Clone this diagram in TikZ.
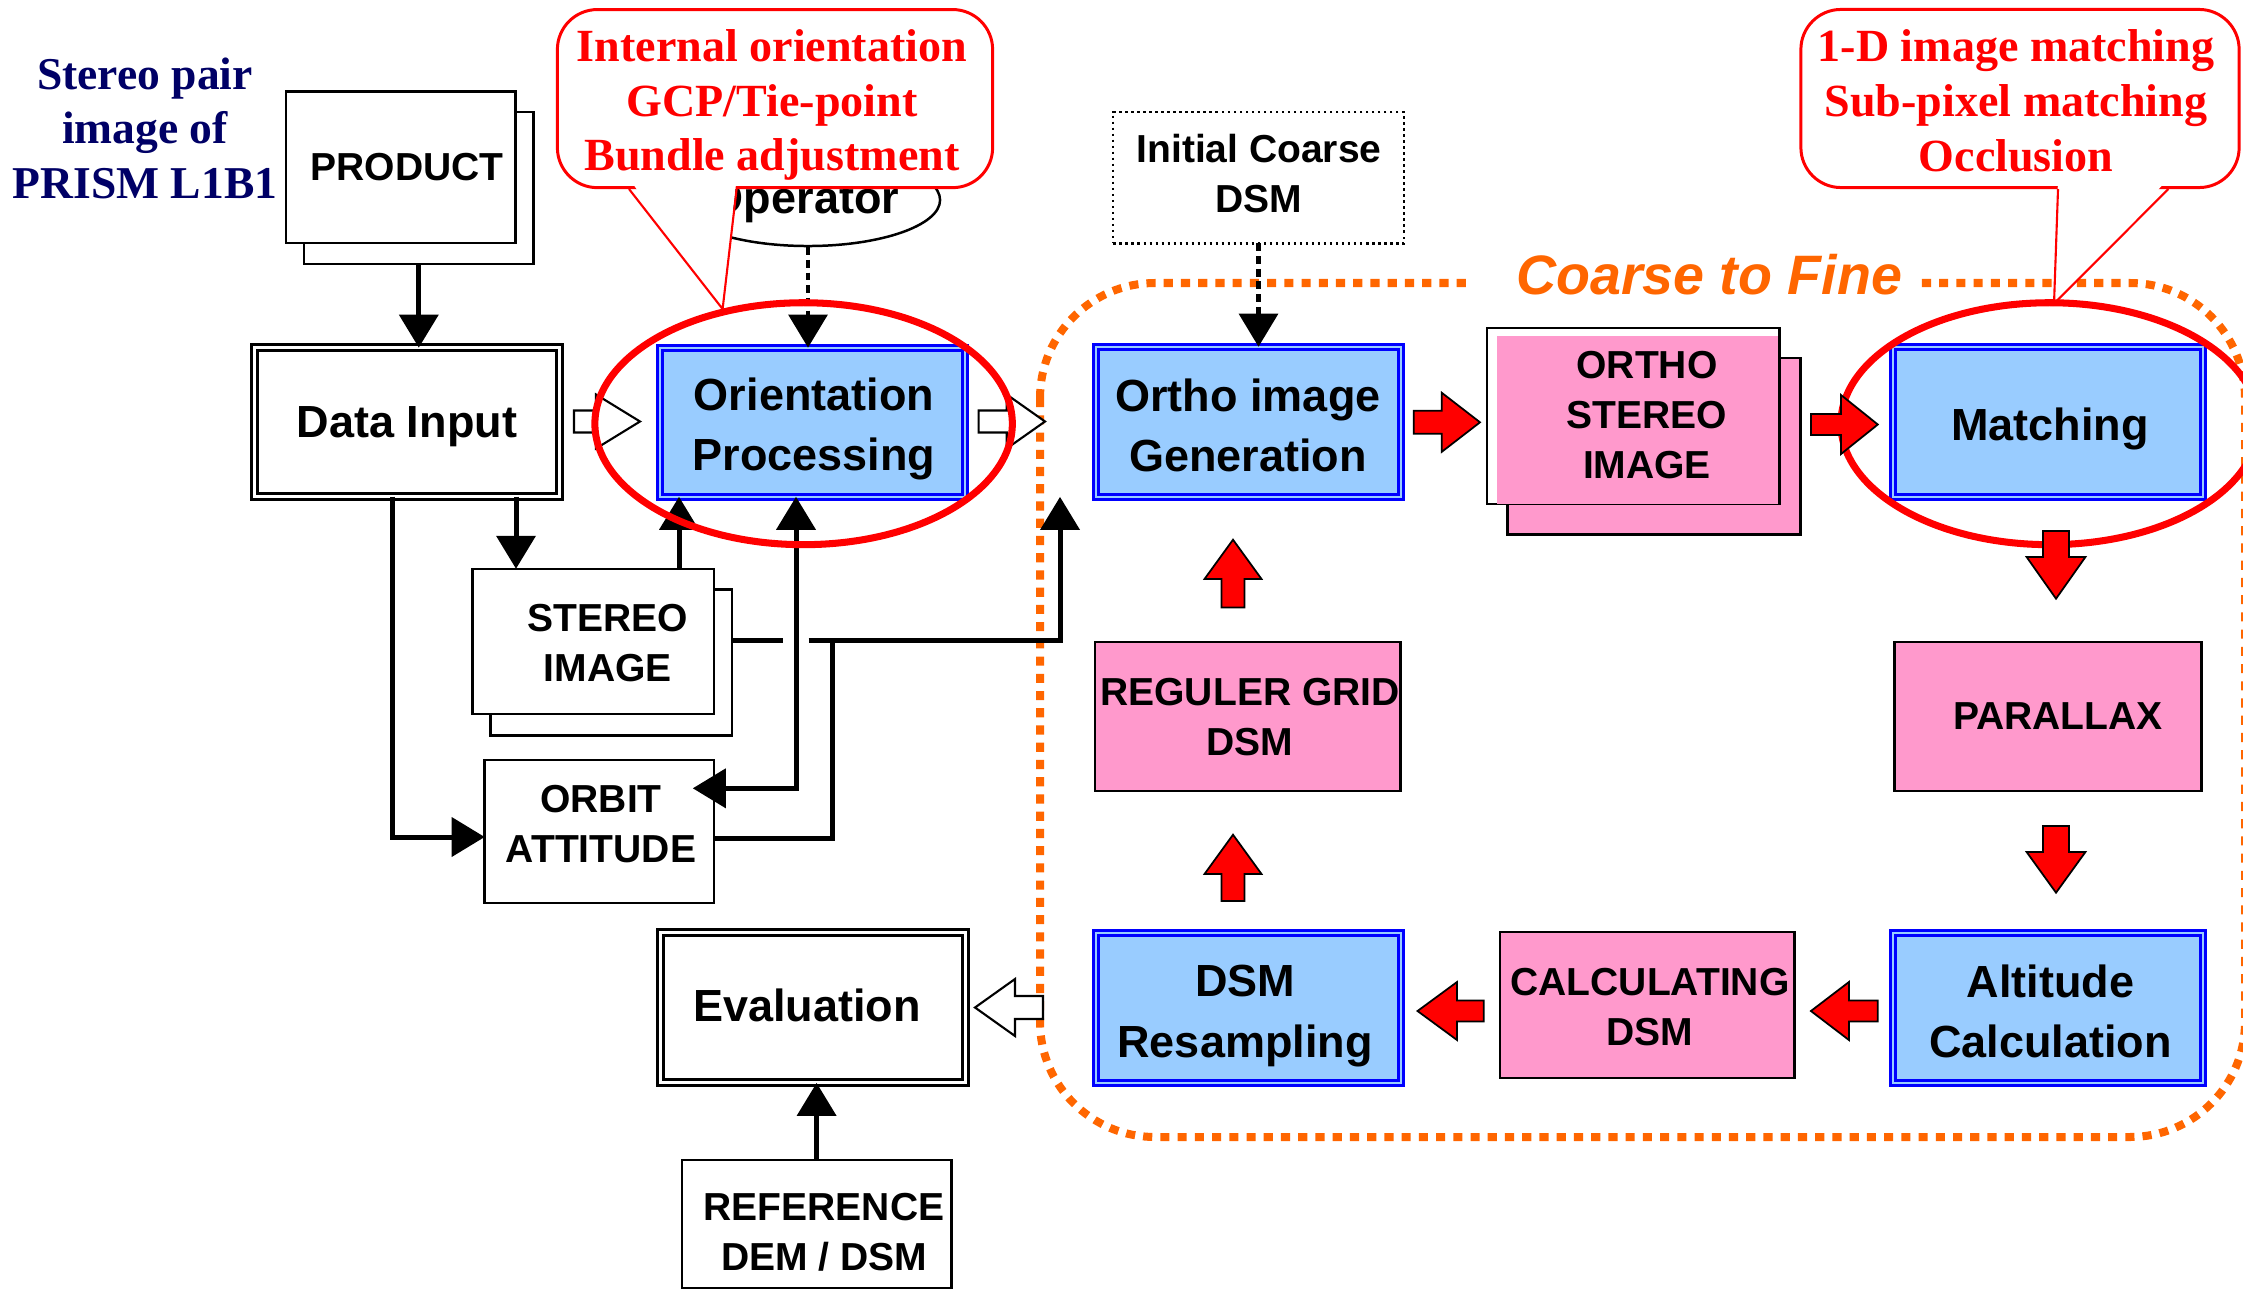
\documentclass[tikz,border=0pt]{standalone}
\usepackage{fontspec}
\setmainfont{Liberation Serif}
\setsansfont{Liberation Sans}
\usetikzlibrary{arrows.meta,shapes.geometric}
\definecolor{lblue}{HTML}{99CCFF}
\definecolor{bblue}{HTML}{0000FF}
\definecolor{pinkc}{HTML}{FF99CC}
\definecolor{navyc}{HTML}{000066}
\definecolor{orng}{HTML}{FF6600}
\newcommand\blkh[7]{\draw[#1] (#2,#3) -- (#4,#3-#6) -- (#4,#3-#7) -- (#5,#3-#7) -- (#5,#3+#7) -- (#4,#3+#7) -- (#4,#3+#6) -- cycle;}
\newcommand\blkv[7]{\draw[#1] (#3,#2) -- (#3-#6,#4) -- (#3-#7,#4) -- (#3-#7,#5) -- (#3+#7,#5) -- (#3+#7,#4) -- (#3+#6,#4) -- cycle;}
\tikzset{
  box/.style={draw, line width=0.71pt, inner sep=0pt, outer sep=0pt, fill=white},
  pinkbox/.style={box, fill=pinkc},
  bluebox/.style={draw=bblue, double=lblue, line width=0.85pt, double distance=0.6pt, fill=lblue, inner sep=0pt, outer sep=0pt},
  dblbox/.style={draw=black, double=white, line width=0.85pt, double distance=0.85pt, fill=white, inner sep=0pt, outer sep=0pt},
  bigtxt/.style={font=\sffamily\bfseries\fontsize{12.8}{17.1}\selectfont, align=center},
  smtxt/.style={font=\sffamily\bfseries\fontsize{11.1}{14.2}\selectfont, align=center},
  line/.style={line width=1.42pt},
  conn/.style={line width=1.42pt, -{Triangle[length=9.4pt,width=11pt]}},
  biconn/.style={line width=1.42pt, {Triangle[length=9.4pt,width=11pt]}-{Triangle[length=9.4pt,width=11pt]}},
  dconn/.style={line width=1.2pt, dash pattern=on 2.2pt off 1.4pt, -{Triangle[length=9.4pt,width=11pt]}},
  hollow/.style={draw=black, fill=white, line width=0.6pt},
  redarr/.style={draw=black, fill=red, line width=0.5pt, line join=miter},
  callout/.style={draw=red, line width=0.85pt, fill=white, rounded corners=0.4cm, inner sep=0pt},
  calltxt/.style={font=\rmfamily\bfseries\fontsize{13.1}{15.6}\selectfont, text=red, align=center},
  redring/.style={draw=red, line width=2pt},
}
\begin{document}
\begin{tikzpicture}[x=0.01cm, y=-0.01cm]
\useasboundingbox (0,0) rectangle (2243,1291);
\fill[white] (0,0) rectangle (2243,1291);

% helper coordinates
\coordinate (xa) at (516,0);
\coordinate (xb) at (679,0);
\coordinate (xc) at (796,0);
\coordinate (xd) at (392.8,0);
\coordinate (xe) at (832,0);
\coordinate (xf) at (1060,0);
\coordinate (yh) at (0,640);
\coordinate (yo) at (0,788.3);
\coordinate (yp) at (0,838.3);
\coordinate (yq) at (0,837);
\coordinate (g1) at (783,640);
\coordinate (g2) at (808.5,640);
\coordinate (g3) at (1063,640);

% coarse to fine loop
\draw[orng, line width=2.28pt, dash pattern=on 2.6pt off 2.3pt, rounded corners=1.15cm] (1040,283) rectangle (2245,1137);
\fill[white] (1468,262) rectangle (1921,302);
\node[text=orng, font=\sffamily\bfseries\itshape\fontsize{15.8}{18}\selectfont] (ctf) at (1709,275) {Coarse to Fine};

% title text
\node[text=navyc, font=\rmfamily\bfseries\fontsize{12.95}{15.5}\selectfont, align=center] (title) at (145,128) {Stereo pair\\image of\\PRISM L1B1};

% left boxes
\node[box, minimum width=2.29cm, minimum height=1.52cm] (prodback) at (418.8,187.9) {};
\node[box, minimum width=2.295cm, minimum height=1.515cm] (product) at (400.9,167.2) {};
\node[smtxt] (product-t) at (407,167) {PRODUCT};
\node[dblbox, minimum width=3.05cm, minimum height=1.49cm] (datain) at (406.9,422.2) {};
\node[bigtxt] (datain-t) at (407,426.7) {Data Input};
\node[bluebox, minimum width=3.05cm, minimum height=1.49cm] (orient) at (812.5,422.2) {};
\node[bigtxt] (orient-t) at (814,429) {Orientation\\Processing};
\node[box, minimum width=2.41cm, minimum height=1.46cm] (stereoback) at (611.2,662.35) {};
\node[box, minimum width=2.41cm, minimum height=1.45cm] (stereo) at (593.3,641.35) {};
\node[smtxt] (stereo-t) at (607.6,643) {STEREO\\IMAGE};
\node[box, minimum width=2.29cm, minimum height=1.425cm] (orbit) at (599.3,831.5) {};
\node[smtxt] (orbit-t) at (601,824) {ORBIT\\ATTITUDE};
\node[dblbox, minimum width=3.05cm, minimum height=1.50cm] (eval) at (812.8,1007.8) {};
\node[bigtxt] (eval-t) at (807,1005) {Evaluation};
\node[box, minimum width=2.695cm, minimum height=1.275cm] (ref) at (816.6,1224) {};
\node[smtxt] (ref-t) at (824,1232) {REFERENCE\\DEM / DSM};

% operator ellipse
\node[draw, ellipse, line width=0.71pt, fill=white, inner sep=0pt, minimum width=2.64cm, minimum height=0.92cm] (operator) at (808,200) {};
\node[bigtxt] (operator-t) at (804,202) {Operator};

% right boxes
\node[box, densely dotted, line width=0.6pt, minimum width=2.90cm, minimum height=1.315cm] (initc) at (1258.5,177.7) {};
\node[smtxt] (initc-t) at (1259,174) {Initial Coarse\\DSM};
\node[bluebox, minimum width=3.05cm, minimum height=1.50cm] (ortho) at (1248.2,421.8) {};
\node[bigtxt] (ortho-t) at (1248,425) {Ortho image\\Generation};
\node[pinkbox, minimum width=2.93cm, minimum height=1.765cm] (orthoback) at (1654.1,446.4) {};
\node[box, minimum width=2.92cm, minimum height=1.76cm] (orthost) at (1633.2,416.1) {};
\fill[pinkc] (1497,336) rectangle (1778,503.5);
\node[smtxt] (orthost-t) at (1647,415) {ORTHO\\STEREO\\IMAGE};
\node[bluebox, minimum width=3.10cm, minimum height=1.50cm] (match) at (2047.8,421.8) {};
\node[bigtxt] (match-t) at (2050,429) {Matching};
\node[pinkbox, minimum width=3.07cm, minimum height=1.49cm] (parallax) at (2047.9,716.3) {};
\node[smtxt] (parallax-t) at (2058,716) {PARALLAX};
\node[pinkbox, minimum width=3.05cm, minimum height=1.49cm] (reguler) at (1247.8,716.3) {};
\node[smtxt] (reguler-t) at (1250,717) {REGULER GRID\\DSM};
\node[pinkbox, minimum width=2.94cm, minimum height=1.46cm] (calc) at (1647.3,1004.8) {};
\node[smtxt] (calc-t) at (1650,1007) {CALCULATING\\DSM};
\node[bluebox, minimum width=3.05cm, minimum height=1.50cm] (dsmres) at (1248.2,1007.8) {};
\node[bigtxt] (dsmres-t) at (1245,1016) {DSM\\Resampling};
\node[bluebox, minimum width=3.10cm, minimum height=1.50cm] (alt) at (2047.8,1007.8) {};
\node[bigtxt] (alt-t) at (2050.5,1011) {Altitude\\Calculation};

% black connectors
\draw[conn] (prodback.south) -- (prodback.south |- datain.north);
\draw[conn] (datain.south -| xa) -- (stereo.north -| xa);
\draw[conn] (stereo.north -| xb) -- (orient.south -| xb);
\draw[biconn] ([xshift=-6pt]orbit.east |- yo) -| (orient.south -| xc);
\draw[conn] (datain.south -| xd) |- (orbit.west |- yq);
\draw[line] (orbit.east |- yp) -| (xe |- yh);
\draw[line] (stereoback.east |- yh) -- (g1);
\draw[line] (g2) -- (g3);
\draw[conn] (xf |- yh) -- (xf |- ortho.south);
\draw[dconn] (operator.south) -- (operator.south |- orient.north);
\draw[dconn] (initc.south) -- (initc.south |- ortho.north);
\draw[conn] (ref.north) -- (ref.north |- eval.south);

% hollow arrows
\blkh{hollow}{640}{421.5}{596}{574}{27}{11}
\blkh{hollow}{1045}{421.5}{1006.7}{978.6}{27}{11}
\blkh{hollow}{975}{1007.5}{1015}{1043}{28.5}{11.5}

% callouts
\node[callout, minimum width=4.35cm, minimum height=1.78cm] (call1) at (775,98.6) {};
\coordinate (c1a) at (629,189);
\coordinate (c1t) at (722.6,309);
\coordinate (c1b) at (736.6,189);
\fill[white] ([yshift=3pt]c1a) -- (c1t) -- ([yshift=3pt]c1b) -- cycle;
\draw[red, line width=0.6pt] (c1a) -- (c1t) -- (c1b);
\node[calltxt] (call1-t) at (772,105) {Internal orientation\\GCP/Tie-point\\Bundle adjustment};

\node[callout, minimum width=4.38cm, minimum height=1.78cm] (call2) at (2020,98.5) {};
\coordinate (c2a) at (2058,189);
\coordinate (c2t) at (2054,303.6);
\coordinate (c2b) at (2168.4,189);
\fill[white] ([yshift=3pt]c2a) -- (c2t) -- ([yshift=3pt]c2b) -- cycle;
\draw[red, line width=0.6pt] (c2a) -- (c2t) -- (c2b);
\node[calltxt] (call2-t) at (2016,100.5) {1-D image matching\\Sub-pixel matching\\Occlusion};

% red rings
\draw[redring] (803.6,423.7) ellipse [x radius=2.086cm, y radius=1.209cm];
\draw[redring] (2049.6,423.7) ellipse [x radius=2.086cm, y radius=1.209cm];

% red block arrows
\blkh{redarr}{1480}{422.3}{1441.8}{1413.7}{29.5}{11.5}
\blkh{redarr}{1877.8}{424.5}{1841}{1810.9}{29.5}{10.5}
\blkv{redarr}{598.7}{2056}{557}{531}{29.4}{13}
\blkv{redarr}{892.7}{2056}{852}{826}{29.4}{13}
\blkh{redarr}{1810.9}{1011}{1848.9}{1877.8}{29}{10.5}
\blkh{redarr}{1417.5}{1011}{1457}{1483.7}{29}{10.5}
\blkv{redarr}{834.7}{1233}{874}{901}{28.5}{11.5}
\blkv{redarr}{539.7}{1233}{579}{607.5}{28.5}{11.5}
\end{tikzpicture}
\end{document}
